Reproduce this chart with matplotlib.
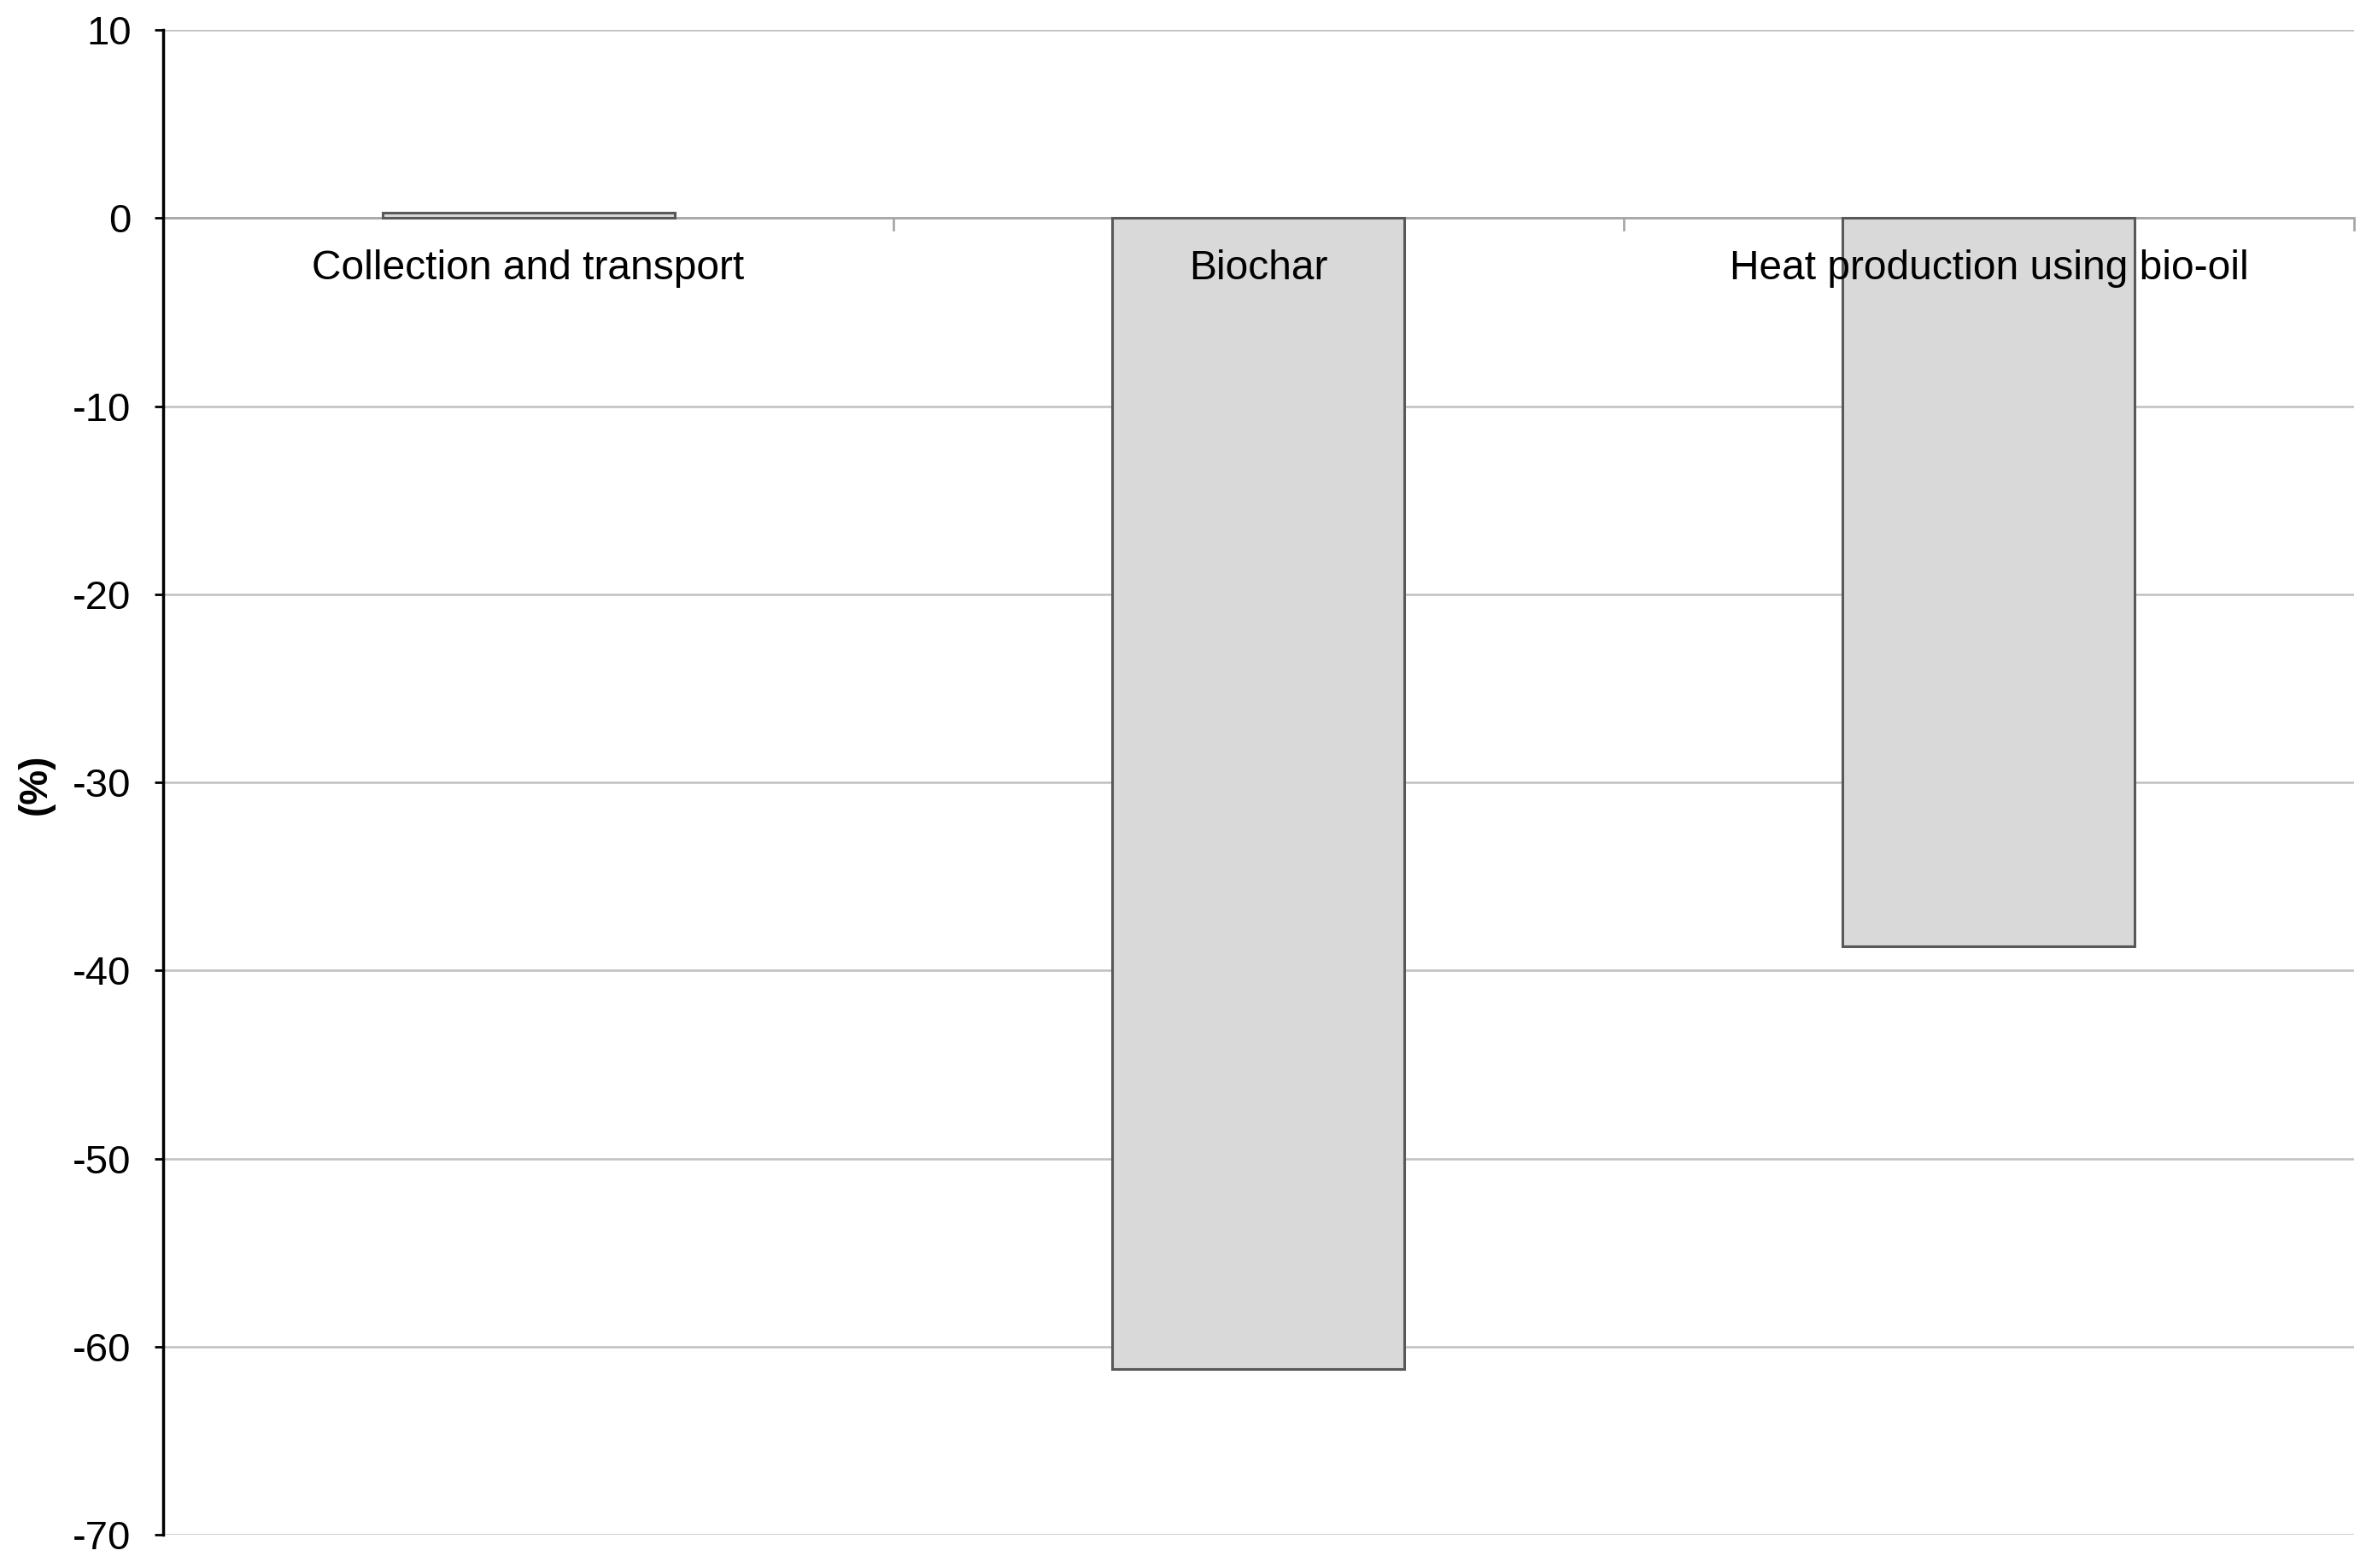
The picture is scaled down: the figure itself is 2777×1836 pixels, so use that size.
import matplotlib.pyplot as plt

categories = ['Collection and transport', 'Biochar', 'Heat production using bio-oil']
values = [0.3, -61.2, -38.7]
yticks = [10, 0, -10, -20, -30, -40, -50, -60, -70]

plt.rcParams['font.family'] = ['Liberation Sans', 'DejaVu Sans']

fig = plt.figure(figsize=(27.77, 18.36), dpi=100)
ax = fig.add_axes([0.0688, 0.0212, 0.9236, 0.9597])

x = list(range(len(categories)))
ax.bar(x, values, width=0.4, color='#d9d9d9', edgecolor='#595959', linewidth=2.2, zorder=3)

ax.set_xlim(-0.5, len(categories) - 0.5)
ax.set_ylim(-70, 10)
ax.set_yticks(yticks)
ax.set_yticklabels([str(t) for t in yticks], fontsize=34)
ax.tick_params(axis='y', direction='out', length=7, width=2, color='black', pad=20)
ax.set_xticks([])

# gridlines
ax.yaxis.grid(True, color='#c0c0c0', linewidth=1.8, zorder=0)
ax.set_axisbelow(True)

# zero axis with small ticks between categories
ax.axhline(0, color='#a8a8a8', linewidth=2, zorder=2)
for i in range(1, len(categories) + 1):
    bx = i - 0.5
    ax.plot([bx, bx], [0, -0.6], color='#a8a8a8', linewidth=2, zorder=2, clip_on=False)

for i, lab in enumerate(categories):
    ax.text(i, -2.7, lab, ha='center', va='center', fontsize=34.5, zorder=5)

for s in ['top', 'right', 'bottom']:
    ax.spines[s].set_visible(False)
ax.spines['left'].set_linewidth(2.5)
ax.spines['left'].set_color('black')

fig.text(0.015, 0.5, '(%)', rotation=90, ha='center', va='center', fontsize=33, fontweight='bold')

fig.savefig('out.png', dpi=100)
